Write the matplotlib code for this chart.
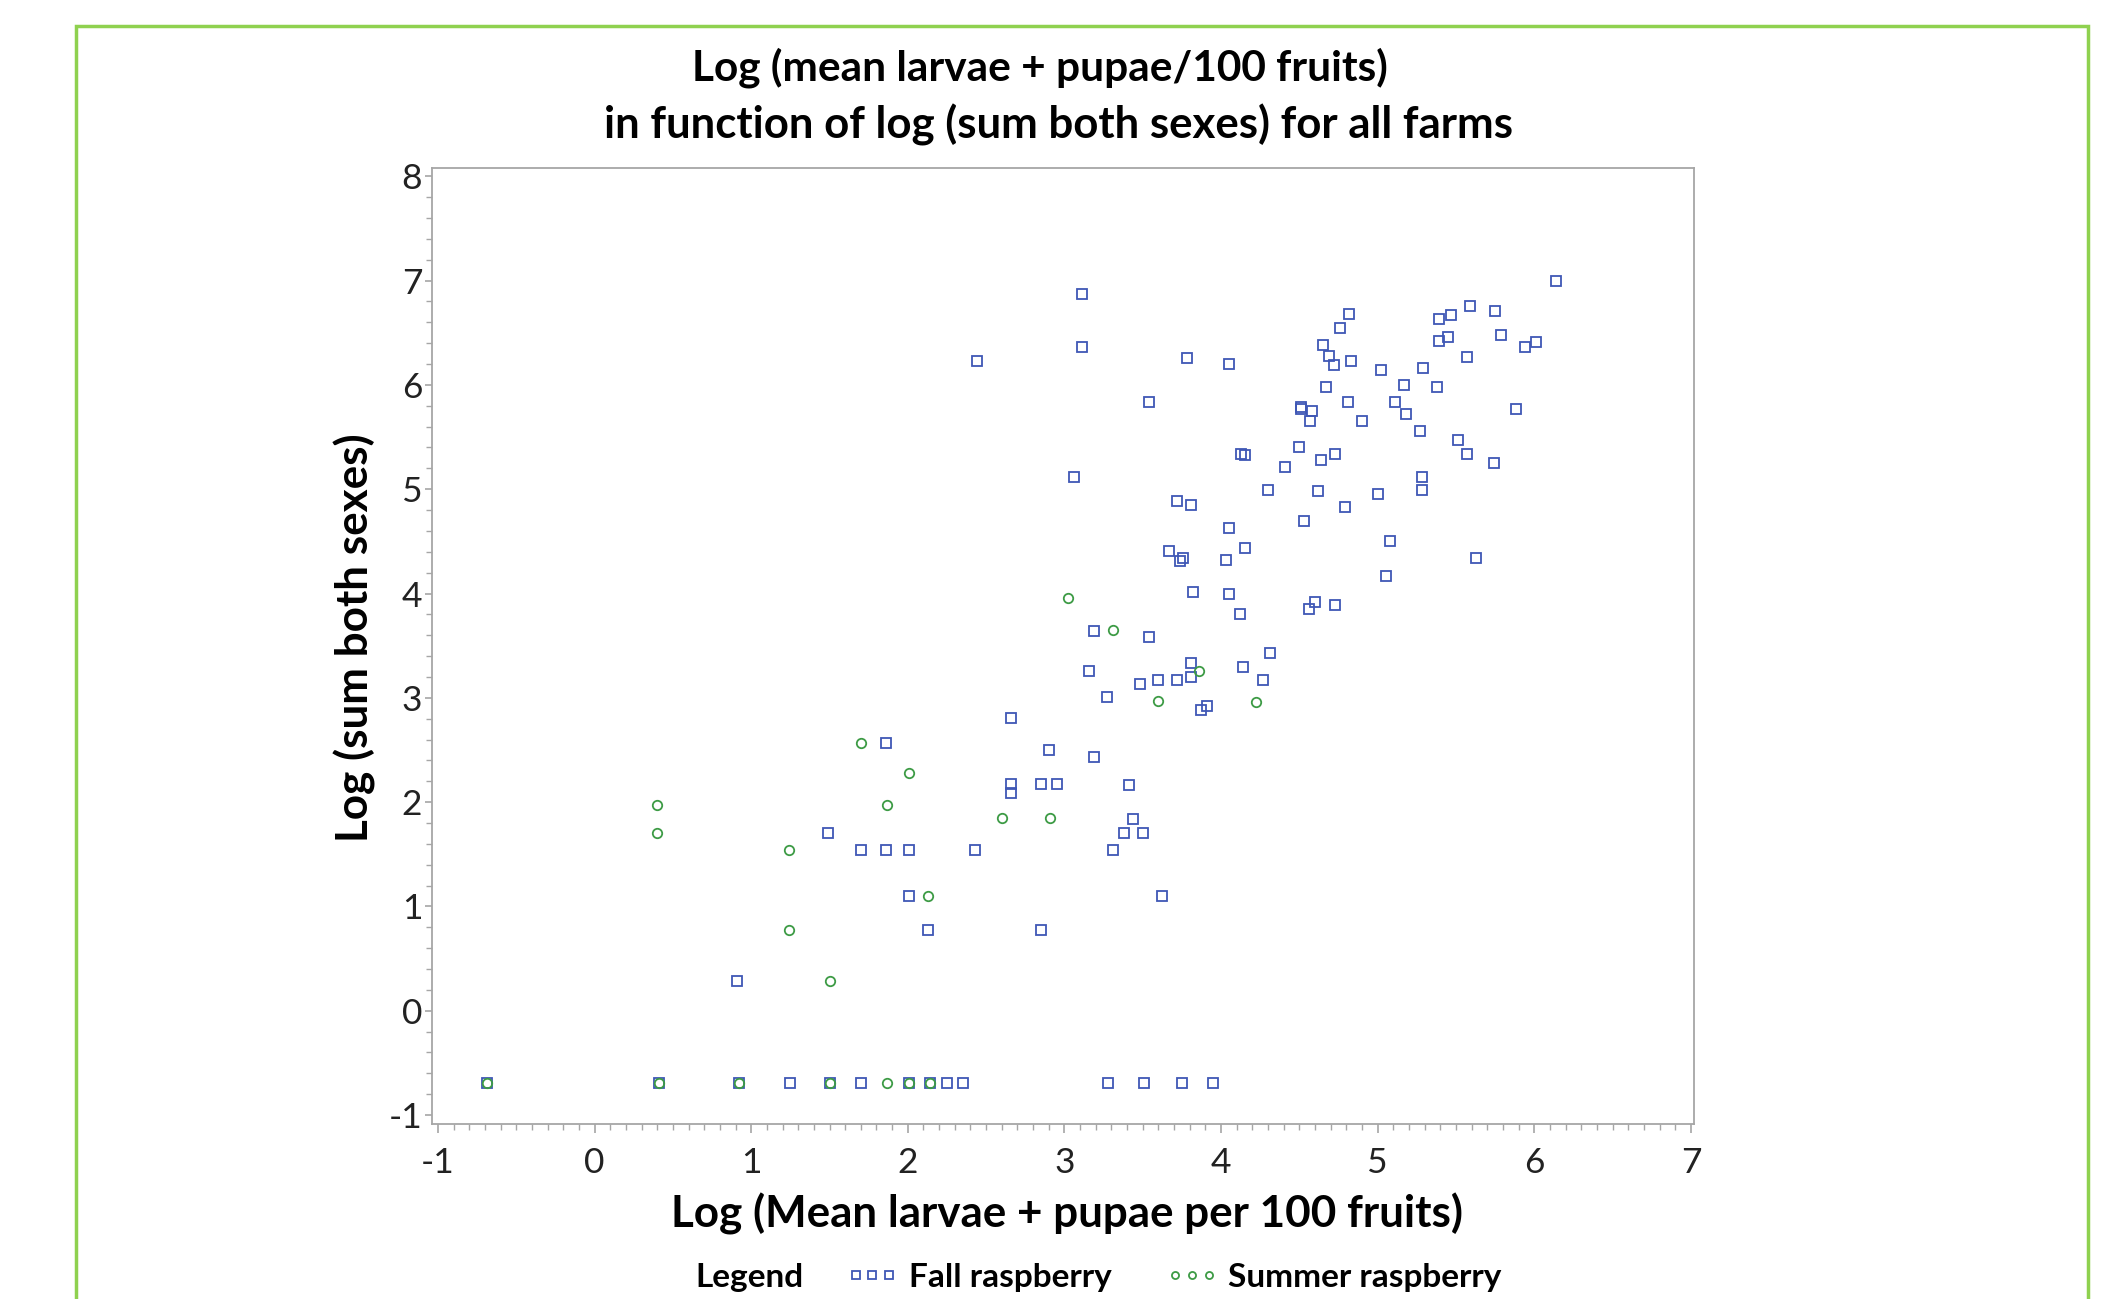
import numpy as np
import matplotlib
matplotlib.use("Agg")
import matplotlib.pyplot as plt
from matplotlib.patches import Rectangle
from matplotlib.ticker import MultipleLocator

plt.rcParams['font.family'] = ['Lato', 'DejaVu Sans']
plt.rcParams['axes.unicode_minus'] = False

# Fall raspberry (squares): log(mean larvae+pupae /100 fruits), log(sum both sexes)
fall_x = [-0.69, 0.41, 0.92, 1.25, 1.50, 1.70, 2.01, 2.14, 2.25, 2.35, 3.28, 3.51, 3.75, 3.95,
          0.91, 1.49, 1.70, 1.86, 2.01, 2.43, 2.01, 2.13, 2.85, 1.86, 2.66, 2.90, 2.66, 2.66,
          2.85, 2.95,
          5.05, 3.82, 4.05, 4.60, 4.56, 4.73, 4.12, 3.19, 3.54, 4.31, 3.81, 4.14, 3.16, 3.81,
          3.48, 3.60, 3.72, 4.27, 3.27, 3.91, 3.87, 3.19, 3.41, 3.44, 3.38, 3.50, 3.31, 3.62,
          6.14, 3.11, 3.11, 3.78, 4.05, 3.54, 4.82, 4.76, 4.65, 4.69, 4.72, 4.83, 5.39, 5.47,
          5.59, 5.75, 5.39, 5.45, 5.79, 5.94, 6.01, 5.57, 5.02, 5.29, 4.67, 5.17, 5.38, 4.81,
          5.11, 4.51, 4.51, 4.58, 4.57, 4.90, 5.18, 5.88, 5.27, 5.51, 5.57, 5.74, 3.06, 4.13,
          4.15, 4.50, 4.41, 4.64, 4.73, 4.30, 4.62, 5.00, 5.28, 5.28, 4.79, 3.72, 3.81, 4.53,
          4.05, 5.08, 3.67, 3.76, 3.74, 4.03, 4.15, 5.63, 2.44]
fall_y = [-0.69, -0.69, -0.69, -0.69, -0.69, -0.69, -0.69, -0.69, -0.69, -0.69, -0.69, -0.69, -0.69, -0.69,
          0.29, 1.70, 1.54, 1.54, 1.54, 1.54, 1.10, 0.77, 0.77, 2.57, 2.81, 2.50, 2.17, 2.09,
          2.17, 2.17,
          4.17, 4.01, 4.00, 3.92, 3.85, 3.89, 3.80, 3.64, 3.58, 3.43, 3.33, 3.30, 3.26, 3.20,
          3.13, 3.17, 3.17, 3.17, 3.01, 2.92, 2.88, 2.43, 2.16, 1.84, 1.70, 1.70, 1.54, 1.10,
          7.00, 6.87, 6.36, 6.26, 6.20, 5.84, 6.68, 6.55, 6.38, 6.28, 6.19, 6.23, 6.63, 6.67,
          6.76, 6.71, 6.42, 6.46, 6.48, 6.36, 6.41, 6.27, 6.14, 6.16, 5.98, 6.00, 5.98, 5.84,
          5.84, 5.79, 5.77, 5.75, 5.65, 5.65, 5.72, 5.77, 5.56, 5.47, 5.34, 5.25, 5.12, 5.34,
          5.33, 5.40, 5.21, 5.28, 5.34, 4.99, 4.98, 4.95, 5.12, 4.99, 4.83, 4.89, 4.85, 4.70,
          4.63, 4.50, 4.41, 4.34, 4.31, 4.32, 4.44, 4.34, 6.23]

# Summer raspberry (circles)
summer_x = [-0.69, 0.41, 0.92, 1.50, 1.87, 2.01, 2.14,
            0.40, 0.40, 1.24, 1.24, 1.50, 1.70, 1.87, 2.01, 2.13, 2.60, 2.91,
            3.02, 3.31, 3.86, 3.60, 4.22]
summer_y = [-0.69, -0.69, -0.69, -0.69, -0.69, -0.69, -0.69,
            1.97, 1.70, 1.54, 0.77, 0.29, 2.57, 1.97, 2.28, 1.10, 1.85, 1.85,
            3.96, 3.65, 3.26, 2.97, 2.96]

xticks = [-1, 0, 1, 2, 3, 4, 5, 6, 7]
yticks = [-1, 0, 1, 2, 3, 4, 5, 6, 7, 8]

blue = '#3f57b5'
green = '#3d9b45'
axis_gray = '#a6a6a6'

fig = plt.figure(figsize=(21.25, 12.99), dpi=100)
ax = fig.add_axes([0.2033, 0.1347, 0.5939, 0.736])

fall_line, = ax.plot(fall_x, fall_y, linestyle='none', marker='s', markersize=7,
                     markerfacecolor='none', markeredgecolor=blue, markeredgewidth=1.3)
summer_line, = ax.plot(summer_x, summer_y, linestyle='none', marker='o', markersize=6.8,
                       markerfacecolor='none', markeredgecolor=green, markeredgewidth=1.3)

ax.set_xlim(-1.038, 7.02)
ax.set_ylim(-1.086, 8.08)
ax.set_xticks(xticks)
ax.set_yticks(yticks)
ax.xaxis.set_minor_locator(MultipleLocator(0.1))
ax.yaxis.set_minor_locator(MultipleLocator(0.2))
for s in ax.spines.values():
    s.set_color(axis_gray)
    s.set_linewidth(1.3)
ax.tick_params(which='major', width=1.2, color=axis_gray, labelsize=25.5,
               labelcolor='#222222')
ax.tick_params(axis='x', which='major', length=6.5, pad=10)
ax.tick_params(axis='y', which='major', length=5, pad=2)
ax.tick_params(which='minor', length=4, width=1.0, color=axis_gray)

ax.set_xlabel('Log (Mean larvae + pupae per 100 fruits)', fontsize=31.7, fontweight='bold',
              va='center')
ax.xaxis.set_label_coords(0.503, -0.094)
ax.set_ylabel('Log (sum both sexes)', fontsize=31.7, fontweight='bold', va='center')
ax.yaxis.set_label_coords(-0.061, 0.509)

fig.text(0.4894, 0.9477, 'Log (mean larvae + pupae/100 fruits)', fontsize=30.5,
         fontweight='bold', ha='center', va='center')
fig.text(0.4979, 0.9038, 'in function of log (sum both sexes) for all farms', fontsize=31.5,
         fontweight='bold', ha='center', va='center')

# legend row at the bottom
fig.text(0.327, 0.0169, 'Legend', fontsize=24, fontweight='bold', ha='left', va='center')
fig.legend([fall_line, summer_line], ['Fall raspberry', 'Summer raspberry'],
           loc='center left', bbox_to_anchor=(0.398, 0.0169), ncol=2, frameon=False,
           numpoints=3, markerscale=0.75, handlelength=1.6, handletextpad=0.3,
           columnspacing=1.6, borderpad=0, borderaxespad=0,
           prop={'size': 24, 'weight': 'bold'})

# light green frame around the whole picture
fig.patches.append(Rectangle((0.0356, -0.05), 0.947, 1.03, transform=fig.transFigure,
                             fill=False, edgecolor='#8fd14f', linewidth=2.5))

fig.savefig('out.png', dpi=100)
